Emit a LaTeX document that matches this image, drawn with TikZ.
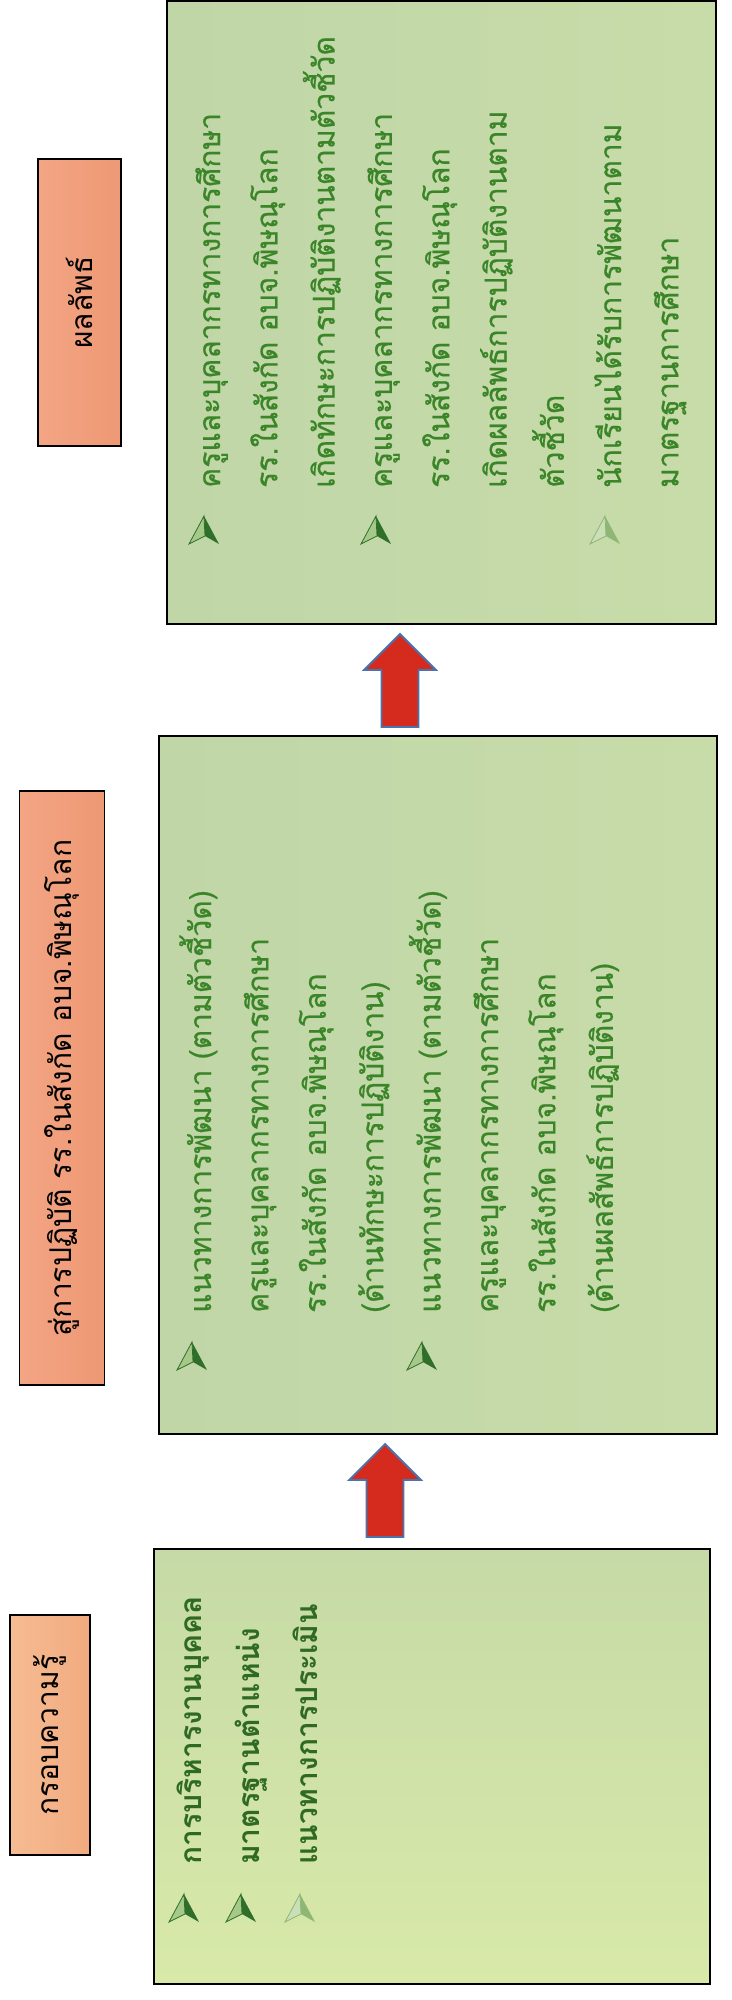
\documentclass[tikz,border=0pt]{standalone}
\usepackage{fontspec}
\newfontfamily\thai[Script=Thai]{Loma}
\newfontfamily\thaim[Script=Thai,FakeBold=0.6]{Loma}
\usetikzlibrary{calc}
\definecolor{oAL}{HTML}{F6BC92}
\definecolor{oAR}{HTML}{F2AA80}
\definecolor{oL}{HTML}{F3A584}
\definecolor{oR}{HTML}{EE9874}
\definecolor{gL}{HTML}{C0D6A7}
\definecolor{gR}{HTML}{C8DCA9}
\definecolor{g1T}{HTML}{C6DAA7}
\definecolor{g1B}{HTML}{D8E9A8}
\definecolor{tgreen}{HTML}{3B8529}
\definecolor{tdark}{HTML}{2E6A22}
\definecolor{ared}{HTML}{D42B1E}
\definecolor{ablue}{HTML}{4A74B0}
\definecolor{bdark}{HTML}{2F6F2A}
\definecolor{blight}{HTML}{A6C888}
\begin{document}
\begin{tikzpicture}[x=1pt,y=-1pt,
  obox/.style={draw=black, line width=1.5pt, left color=oL, right color=oR, inner sep=0},
  gbox/.style={draw=black, line width=1.6pt, left color=gL, right color=gR, inner sep=0},
  ttl/.style={font=\thai\fontsize{30}{36}\selectfont, text=black, rotate=90, inner sep=0},
  ln/.style={font=\thaim\fontsize{30}{36}\selectfont, text=tgreen, rotate=90, anchor=base west, inner sep=0},
  lnb/.style={ln, font=\thai\bfseries\fontsize{30}{36}\selectfont, text=tdark},
  blk/.style={fill=ared, draw=ablue, line width=1.8pt, line join=miter},
  bul/.pic={
    \fill[bdark] (0,-14) -- (1,6) -- (15,14) -- cycle;
    \filldraw[fill=blight, draw=bdark, line width=0.8pt] (0,-14) -- (-15,14) -- (1,6) -- cycle;
  },
  bulf/.pic={
    \fill[blight!80!bdark] (0,-14) -- (1,6) -- (15,14) -- cycle;
    \filldraw[fill=blight!60!white, draw=blight!80!bdark, line width=0.8pt] (0,-14) -- (-15,14) -- (1,6) -- cycle;
  },
]
\useasboundingbox (0,0) rectangle (731,2000);
\fill[white] (0,0) rectangle (731,2000);

% orange title boxes
\node[obox, left color=oAL, right color=oAR, minimum width=80pt, minimum height=240pt] (oA) at (50,1735) {};
\node[obox, minimum width=85pt, minimum height=594pt] (oB) at (62,1088) {};
\node[obox, minimum width=83pt, minimum height=287pt] (oC) at (79.5,302.5) {};
\node[ttl] (tA) at (oA.center) {กรอบความรู้};
\node[ttl] (tB) at (oB.center) {สู่การปฏิบัติ รร.ในสังกัด อบจ.พิษณุโลก};
\node[ttl] (tC) at (oC.center) {ผลลัพธ์};

% green content boxes
\node[gbox, top color=g1T, bottom color=g1B, minimum width=556pt, minimum height=435pt] (g1) at (432,1766.5) {};
\node[gbox, minimum width=558pt, minimum height=698pt] (g2) at (438,1085) {};
\node[gbox, minimum width=549pt, minimum height=623pt] (g3) at (441.5,312.5) {};

% block arrows
\coordinate (a1s) at (385,1537);
\coordinate (a1t) at (385,1444);
\coordinate (a2s) at (400,727);
\coordinate (a2t) at (400,634);
\draw[blk] let \p1=(a1s), \p2=(a1t) in
  (\x1-18.5pt,\y1) -- (\x1+18.5pt,\y1) -- (\x1+18.5pt,\y2-36pt) -- (\x1+36pt,\y2-36pt)
  -- (\x2,\y2) -- (\x1-36pt,\y2-36pt) -- (\x1-18.5pt,\y2-36pt) -- cycle;
\draw[blk] let \p1=(a2s), \p2=(a2t) in
  (\x1-18.5pt,\y1) -- (\x1+18.5pt,\y1) -- (\x1+18.5pt,\y2-36pt) -- (\x1+36pt,\y2-36pt)
  -- (\x2,\y2) -- (\x1-36pt,\y2-36pt) -- (\x1-18.5pt,\y2-36pt) -- cycle;

% box 1 text
\node[lnb] (l11) at (201,1865) {การบริหารงานบุคคล};
\node[lnb] (l12) at (259,1865) {มาตรฐานตำแหน่ง};
\node[lnb] (l13) at (317,1865) {แนวทางการประเมิน};
\pic at (184,1908) {bul};
\pic at (241,1908) {bul};
\pic at (300,1908) {bulf};

% box 2 text
\node[ln] (l21) at (211,1313) {แนวทางการพัฒนา (ตามตัวชี้วัด)};
\node[ln] (l22) at (268.4,1313) {ครูและบุคลากรทางการศึกษา};
\node[ln] (l23) at (325.8,1313) {รร.ในสังกัด อบจ.พิษณุโลก};
\node[ln] (l24) at (383.2,1313) {(ด้านทักษะการปฏิบัติงาน)};
\node[ln] (l25) at (440.6,1313) {แนวทางการพัฒนา (ตามตัวชี้วัด)};
\node[ln] (l26) at (498,1313) {ครูและบุคลากรทางการศึกษา};
\node[ln] (l27) at (555.4,1313) {รร.ในสังกัด อบจ.พิษณุโลก};
\node[ln] (l28) at (612.8,1313) {(ด้านผลสัพธ์การปฏิบัติงาน)};
\pic at (192,1356) {bul};
\pic at (422,1356) {bul};

% box 3 text
\node[ln] (l31) at (220,488) {ครูและบุคลากรทางการศึกษา};
\node[ln] (l32) at (277.3,488) {รร.ในสังกัด อบจ.พิษณุโลก};
\node[ln] (l33) at (334.6,488) {เกิดทักษะการปฏิบัติงานตามตัวชี้วัด};
\node[ln] (l34) at (391.9,488) {ครูและบุคลากรทางการศึกษา};
\node[ln] (l35) at (449.2,488) {รร.ในสังกัด อบจ.พิษณุโลก};
\node[ln] (l36) at (506.5,488) {เกิดผลลัพธ์การปฏิบัติงานตาม};
\node[ln] (l37) at (563.8,488) {ตัวชี้วัด};
\node[ln] (l38) at (621.1,488) {นักเรียนได้รับการพัฒนาตาม};
\node[ln] (l39) at (678.4,488) {มาตรฐานการศึกษา};
\pic at (204,530) {bul};
\pic at (376,530) {bul};
\pic at (605,530) {bulf};
\end{tikzpicture}
\end{document}
